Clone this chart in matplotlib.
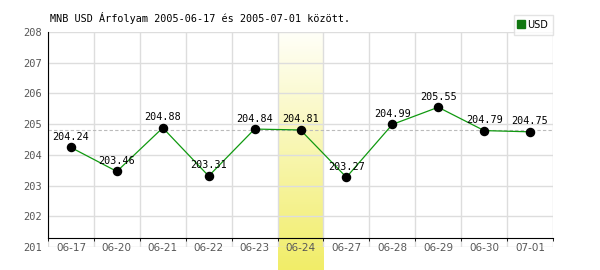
import matplotlib

matplotlib.use("Agg")
import matplotlib.pyplot as plt
import numpy as np
from matplotlib.colors import LinearSegmentedColormap

dates = ["06-17", "06-20", "06-21", "06-22", "06-23", "06-24",
         "06-27", "06-28", "06-29", "06-30", "07-01"]
usd = [204.24, 203.46, 204.88, 203.31, 204.84, 204.81,
       203.27, 204.99, 205.55, 204.79, 204.75]
ref_level = 204.81
highlight = "06-24"
title = "MNB USD Árfolyam 2005-06-17 és 2005-07-01 között."

W, H = 600, 270
fig = plt.figure(figsize=(W / 100, H / 100), dpi=100)
ax = fig.add_axes([48 / W, 1 - 247 / H, 505 / W, 215 / H])

x = np.arange(len(dates))
px = 7 / 215  # data units per pixel

# highlighted day: vertical gradient band, runs down past the axes
hi = dates.index(highlight)
cmap = LinearSegmentedColormap.from_list("band", ["#fffff8", "#f1ed68"])
grad = np.linspace(0, 1, 256).reshape(-1, 1)
ax.imshow(grad, cmap=cmap, aspect="auto", origin="upper",
          extent=(hi - 0.5, hi + 0.5, 201 - 23 * px, 208),
          clip_on=False, zorder=0)
ax.set_xlim(-0.5, len(dates) - 0.5)
ax.set_ylim(201, 208)

ax.set_xticks(np.arange(len(dates) + 1) - 0.5, minor=True)
ax.grid(True, which="minor", axis="x", color="#dddddd", lw=1, zorder=0.5)
ax.grid(True, which="major", axis="y", color="#dddddd", lw=1, zorder=0.5)
ax.set_axisbelow(True)

ax.axhline(ref_level, color="#bbbbbb", lw=0.8, ls=(0, (3, 2)), zorder=1)

ax.plot(x, usd, color="#109910", lw=0.9, zorder=2)
ax.scatter(x, usd, s=34, color="black", zorder=3)
for xi, v in zip(x, usd):
    ax.annotate(f"{v:.2f}", (xi, v), xytext=(0, 4), textcoords="offset points",
                ha="center", va="bottom", fontsize=7.3,
                family="DejaVu Sans Mono", color="black", zorder=4)

ax.set_xticks(x)
ax.set_xticklabels(dates)
ax.set_yticks(np.arange(201, 209))
ax.tick_params(axis="both", length=0, labelsize=7.5, labelcolor="#555555")
ax.tick_params(axis="x", pad=3.5)
ax.tick_params(axis="y", pad=4)
for lab in ax.get_xticklabels() + ax.get_yticklabels():
    lab.set_family("DejaVu Sans Mono")

for s in ["top", "right"]:
    ax.spines[s].set_visible(False)
ax.spines["left"].set_color("black")
ax.spines["left"].set_bounds(201 + 9 * px, 208)
ax.spines["bottom"].set_position(("axes", 9 / 215))
ax.spines["bottom"].set_color("black")

fig.text(50 / W, 1 - 18 / H, title, fontsize=7.3, family="DejaVu Sans Mono",
         va="center", ha="left")

leg = ax.legend(handles=[plt.Line2D([], [], marker="s", ls="none",
                                    color="#117711", markersize=6)],
                labels=["USD"], loc="upper right",
                bbox_to_anchor=(553 / W, 1 - 15 / H),
                bbox_transform=fig.transFigure, fontsize=7,
                frameon=True, fancybox=False, handlelength=0.6,
                handletextpad=0.3, borderpad=0.5, borderaxespad=0)
leg.get_frame().set_edgecolor("#dddddd")
leg.get_frame().set_linewidth(1)

fig.savefig("out.png", dpi=100)
